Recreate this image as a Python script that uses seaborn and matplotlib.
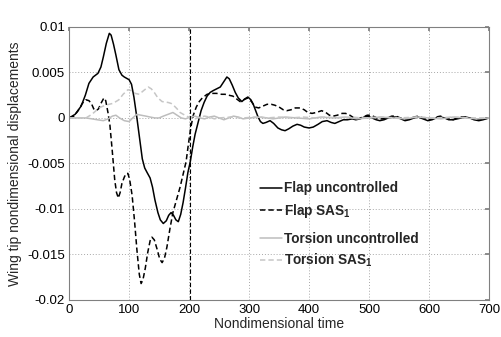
import numpy as np
import pandas as pd
import matplotlib
matplotlib.use("Agg")
import matplotlib.pyplot as plt
import seaborn as sns

# Flap uncontrolled (solid black)
flap_unc_t = [0, 10, 20, 27, 33, 40, 48, 53, 57, 62, 67, 70, 74, 78, 83, 88, 92, 100, 104, 108,
              113, 118, 122, 126, 130, 135, 139, 143, 148, 152, 157, 162, 166, 170, 174, 178, 182,
              186, 190, 194, 198, 202, 206, 210, 215, 220, 225, 230, 235, 240, 246, 252, 258, 263,
              267, 272, 277, 282, 288, 293, 298, 303, 307, 311, 315, 319, 323, 328, 335, 341, 348,
              354, 360, 366, 373, 380, 386, 392, 400, 407, 415, 422, 430, 437, 443, 450, 457, 464,
              472, 478, 485, 492, 498, 505, 512, 518, 525, 532, 540, 546, 553, 560, 567, 575, 582,
              590, 598, 605, 612, 619, 626, 633, 640, 647, 654, 661, 668, 675, 683, 690, 700]
flap_unc_v = [0, 0.0004, 0.0013, 0.0025, 0.0038, 0.0045, 0.0049, 0.0056, 0.0067, 0.0082, 0.0093,
              0.0091, 0.0081, 0.0069, 0.0053, 0.0047, 0.0045, 0.0042, 0.0037, 0.0023,
              0.0, -0.0025, -0.0045, -0.0055, -0.006, -0.0066, -0.0076, -0.009, -0.0104, -0.0112,
              -0.0116, -0.0113, -0.0107, -0.0104, -0.0107, -0.0112, -0.0114,
              -0.0106, -0.0093, -0.0077, -0.006, -0.0048, -0.0032, -0.0018, -0.0005, 0.0008,
              0.0017, 0.0024, 0.0028, 0.003, 0.0032, 0.0034, 0.004, 0.0045,
              0.0043, 0.0036, 0.0028, 0.0022, 0.0018, 0.0021, 0.0023, 0.002, 0.0015, 0.0008,
              0.0001, -0.0004, -0.0006, -0.0005, -0.0003, -0.0006, -0.0011,
              -0.0013, -0.0014, -0.0012, -0.0009, -0.0007, -0.0008, -0.001, -0.0011, -0.001,
              -0.0007, -0.0004, -0.0003, -0.0005, -0.0006, -0.0004, -0.0002, -0.0002,
              -0.0001, -0.0002, -0.0001, 0.0001, 0.0002, 0.0, -0.0002, -0.0003, -0.0002, 0.0,
              0.0001, 0.0001, -0.0001, -0.0003, -0.0002, 0.0, 0.0001,
              -0.0001, -0.0003, -0.0002, 0.0, 0.0001, 0.0, -0.0002, -0.0002, -0.0001, 0.0,
              0.0001, 0.0, -0.0002, -0.0003, -0.0002, 0.0]

# Flap SAS1 (dashed black)
flap_sas_t = [0, 8, 15, 22, 28, 33, 37, 41, 45, 49, 53, 58, 61, 65, 68, 72, 76, 79, 82, 85, 88,
              92, 95, 98, 101, 105, 109, 113, 117, 120, 123, 127, 131, 135, 138, 142, 147, 151,
              155, 159, 163, 168, 173, 179, 185, 190, 195, 199, 203, 207, 212, 217, 222, 230,
              238, 246, 254, 260, 266, 273, 279, 285, 291, 298, 304, 310, 316, 323, 330, 337,
              343, 350, 357, 363, 370, 377, 385, 392, 398, 405, 412, 421, 428, 434, 440, 447,
              455, 461, 468, 475, 482, 490, 497, 503, 510, 516, 522, 530, 538, 545, 552, 560,
              567, 575, 582, 590, 598, 605, 612, 619, 626, 633, 640, 647, 654, 661, 668, 675,
              683, 690, 700]
flap_sas_v = [0, 0.0002, 0.0008, 0.0016, 0.002, 0.0019, 0.0016, 0.001, 0.0008, 0.001, 0.0016,
              0.0022, 0.0019, 0.0005, -0.0008, -0.0037, -0.0068, -0.0082, -0.0088, -0.0082,
              -0.0072, -0.0065, -0.0061, -0.0061, -0.0068, -0.0085, -0.0113, -0.0145, -0.0172,
              -0.0182, -0.0178, -0.0165, -0.0148, -0.0135, -0.0131, -0.0134, -0.0145, -0.0155,
              -0.0159, -0.0154, -0.0142, -0.0122, -0.0104, -0.009, -0.0076, -0.0062, -0.0048,
              -0.0028, -0.001, 0.0003, 0.0012, 0.0018, 0.0022, 0.0026,
              0.0027, 0.0027, 0.0026, 0.0026, 0.0025, 0.0024, 0.0021, 0.0018, 0.002, 0.0022,
              0.0018, 0.0012, 0.0011, 0.0013, 0.0015, 0.0015,
              0.0014, 0.0012, 0.0009, 0.0008, 0.0009, 0.0011, 0.0011, 0.0009, 0.0006, 0.0005,
              0.0006, 0.0008, 0.0006, 0.0003, 0.0002, 0.0003,
              0.0005, 0.0005, 0.0003, 0.0, -0.0001, 0.0001, 0.0003, 0.0003, 0.0001, -0.0001,
              -0.0001, 0.0, 0.0002, 0.0002, 0.0, -0.0002,
              -0.0001, 0.0001, 0.0002, 0.0, -0.0002, -0.0001, 0.0001, 0.0002, 0.0, -0.0001,
              -0.0002, 0.0, 0.0001, 0.0001, 0.0, -0.0001,
              -0.0002, -0.0001, 0.0]

# Torsion uncontrolled (solid light gray)
tors_unc_t = [0, 10, 20, 28, 38, 47, 57, 65, 72, 78, 84, 92, 100, 106, 113, 120, 128, 135, 143,
              150, 157, 165, 173, 180, 187, 194, 202, 210, 218, 226, 234, 242, 250, 258, 266,
              274, 282, 290, 300, 320, 340, 360, 380, 400, 420, 440, 460, 480, 500, 520, 540,
              560, 580, 600, 620, 640, 660, 680, 700]
tors_unc_v = [0, 0.0, 0.0, 0.0, -0.0001, -0.0002, -0.0003, -0.0001, 0.0002, 0.0003, 0.0,
              -0.0003, -0.0004, 0.0, 0.0004, 0.0003, 0.0002, 0.0001, 0.0,
              0.0, 0.0002, 0.0004, 0.0006, 0.0003, 0.0, -0.0001, 0.0001, 0.0002, 0.0, -0.0001,
              0.0001, 0.0002, 0.0, -0.0002, 0.0,
              0.0002, 0.0001, -0.0001, 0.0, 0.0001, -0.0001, 0.0001, 0.0, -0.0001, 0.0001, 0.0,
              0.0001, -0.0001, 0.0, 0.0001, 0.0,
              -0.0001, 0.0001, 0.0, -0.0001, 0.0001, 0.0, -0.0001, 0.0]

# Torsion SAS1 (dashed light gray)
tors_sas_t = [0, 15, 28, 38, 50, 60, 73, 83, 90, 98, 104, 110, 117, 124, 132, 137, 142, 148,
              155, 165, 170, 174, 180, 185, 193, 202, 210, 218, 226, 234, 242, 250, 270, 290,
              310, 330, 350, 370, 390, 410, 430, 450, 470, 490, 520, 550, 580, 610, 640, 670, 700]
tors_sas_v = [0, 0.0, 0.0, 0.0004, 0.0011, 0.0014, 0.0016, 0.002, 0.0026, 0.0031, 0.003, 0.0027,
              0.0026, 0.003, 0.0034, 0.0032, 0.0028, 0.0022,
              0.0018, 0.0017, 0.0016, 0.0014, 0.001, 0.0006, 0.0003, 0.0, -0.0001, 0.0001, 0.0002,
              0.0001, -0.0001, 0.0, 0.0001, 0.0,
              0.0001, 0.0, 0.0001, 0.0, 0.0001, 0.0, 0.0001, 0.0, 0.0001, 0.0, 0.0001, 0.0, 0.0001,
              0.0, 0.0001, 0.0, 0.0]

switch_time = 202
x_ticks = [0, 100, 200, 300, 400, 500, 600, 700]
y_ticks = [-0.02, -0.015, -0.01, -0.005, 0, 0.005, 0.01]
y_tick_labels = ["-0.02", "-0.015", "-0.01", "-0.005", "0", "0.005", "0.01"]

sns.set_theme(style="white")
plt.rcParams["font.family"] = ["Liberation Sans", "DejaVu Sans"]
plt.rcParams["axes.unicode_minus"] = False
plt.rcParams["mathtext.fontset"] = "custom"
plt.rcParams["mathtext.rm"] = "Liberation Sans"
plt.rcParams["mathtext.bf"] = "Liberation Sans:bold"

fig = plt.figure(figsize=(5.01, 3.37), dpi=100)
ax = fig.add_axes([0.138, 0.110, 0.838, 0.810])

series = [
    (flap_unc_t, flap_unc_v, "black", "-", r"Flap uncontrolled"),
    (flap_sas_t, flap_sas_v, "black", "--", r"Flap SAS$_\mathbf{1}$"),
    (tors_unc_t, tors_unc_v, "#bdbdbd", "-", r"Torsion uncontrolled"),
    (tors_sas_t, tors_sas_v, "#c6c6c6", "--", r"Torsion SAS$_\mathbf{1}$"),
]
handles = []
for t, v, col, ls, lab in series:
    sns.lineplot(x=t, y=v, ax=ax, color=col, linestyle=ls, linewidth=1.1,
                 sort=False, estimator=None, label=lab, legend=False)
    ln = ax.lines[-1]
    if ls == "--":
        ln.set_dashes((3.5, 2))
    handles.append(ln)

ax.axvline(switch_time, color="black", linestyle="--", linewidth=0.8, dashes=(4, 2))

ax.set_xlim(0, 700)
ax.set_ylim(-0.02, 0.01)
ax.set_xticks(x_ticks)
ax.set_yticks(y_ticks)
ax.set_yticklabels(y_tick_labels)
ax.grid(True, color="#a8a8a8", linestyle=(0, (1, 2)), linewidth=0.7)
ax.tick_params(direction="in", length=3, top=True, right=True, labelsize=9.5,
               colors="#808080", labelcolor="black", pad=3)
for s in ax.spines.values():
    s.set_color("#808080")
    s.set_linewidth(0.8)

ax.set_xlabel("Nondimensional time", fontsize=10, labelpad=1)
ax.set_ylabel("Wing tip nondimensional displacements", fontsize=10, labelpad=4)

leg_kw = dict(frameon=False, loc="upper left", handlelength=1.6, handletextpad=0.15,
              borderpad=0, borderaxespad=0, labelspacing=0.45,
              prop={"weight": "bold", "size": 9.8})
leg1 = ax.legend(handles=handles[:2], bbox_to_anchor=(0.455, 0.434), **leg_kw)
ax.add_artist(leg1)
ax.legend(handles=handles[2:], bbox_to_anchor=(0.455, 0.25), **leg_kw)

fig.savefig("out.png", dpi=100)
